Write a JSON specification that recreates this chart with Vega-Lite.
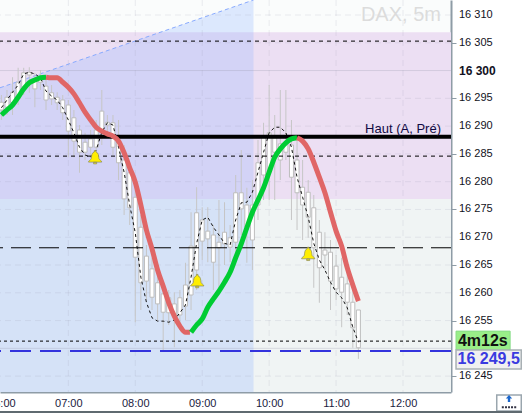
{"$schema":"https://vega.github.io/schema/vega-lite/v6.json","width":451,"height":392,"autosize":"none","padding":{"left":0,"top":0,"right":71,"bottom":21},"background":"#ffffff","view":{"fill":"#fafcfc","stroke":null},"config":{"font":"Liberation Sans"},
"datasets":{
"candles":[
{"t":"2024-01-15T06:00:00Z","open":16292.9,"close":16294.3,"low":16291.1,"high":16295.6,"signal":16293.3},
{"t":"2024-01-15T06:05:00Z","open":16293.4,"close":16295.2,"low":16292.0,"high":16296.5,"signal":16294.7},
{"t":"2024-01-15T06:10:00Z","open":16294.2,"close":16296.1,"low":16292.0,"high":16298.8,"signal":16296.1},
{"t":"2024-01-15T06:15:00Z","open":16295.2,"close":16297.9,"low":16293.8,"high":16300.5,"signal":16297.4},
{"t":"2024-01-15T06:20:00Z","open":16297.0,"close":16299.6,"low":16295.6,"high":16300.5,"signal":16299.4},
{"t":"2024-01-15T06:25:00Z","open":16299.2,"close":16299.7,"low":16296.0,"high":16300.6,"signal":16299.7},
{"t":"2024-01-15T06:30:00Z","open":16298.3,"close":16296.7,"low":16293.4,"high":16299.6,"signal":16299.4},
{"t":"2024-01-15T06:35:00Z","open":16298.8,"close":16297.9,"low":16296.5,"high":16300.1,"signal":16298.7},
{"t":"2024-01-15T06:40:00Z","open":16297.2,"close":16294.7,"low":16292.9,"high":16298.8,"signal":16296.3},
{"t":"2024-01-15T06:45:00Z","open":16296.0,"close":16294.9,"low":16293.8,"high":16297.4,"signal":16295.4},
{"t":"2024-01-15T06:50:00Z","open":16295.2,"close":16294.2,"low":16292.9,"high":16296.1,"signal":16294.7},
{"t":"2024-01-15T06:55:00Z","open":16294.7,"close":16292.4,"low":16291.1,"high":16295.6,"signal":16293.3},
{"t":"2024-01-15T07:00:00Z","open":16293.8,"close":16289.1,"low":16284.4,"high":16294.7,"signal":16291.1},
{"t":"2024-01-15T07:05:00Z","open":16291.5,"close":16287.3,"low":16284.4,"high":16292.9,"signal":16288.8},
{"t":"2024-01-15T07:10:00Z","open":16289.3,"close":16285.3,"low":16281.6,"high":16290.2,"signal":16286.2},
{"t":"2024-01-15T07:15:00Z","open":16287.1,"close":16285.3,"low":16283.9,"high":16288.8,"signal":16284.8},
{"t":"2024-01-15T07:20:00Z","open":16286.2,"close":16287.7,"low":16284.4,"high":16289.3,"signal":16284.4},
{"t":"2024-01-15T07:25:00Z","open":16286.2,"close":16289.3,"low":16284.8,"high":16291.1,"signal":16285.7},
{"t":"2024-01-15T07:30:00Z","open":16289.3,"close":16292.7,"low":16286.6,"high":16296.5,"signal":16288.9},
{"t":"2024-01-15T07:35:00Z","open":16290.2,"close":16290.7,"low":16288.4,"high":16292.0,"signal":16290.6},
{"t":"2024-01-15T07:40:00Z","open":16290.6,"close":16286.2,"low":16284.8,"high":16292.0,"signal":16290.2},
{"t":"2024-01-15T07:45:00Z","open":16287.5,"close":16283.4,"low":16280.3,"high":16291.1,"signal":16286.2},
{"t":"2024-01-15T07:50:00Z","open":16283.9,"close":16276.9,"low":16274.0,"high":16286.6,"signal":16281.7},
{"t":"2024-01-15T07:55:00Z","open":16281.6,"close":16275.3,"low":16272.2,"high":16283.0,"signal":16275.8},
{"t":"2024-01-15T08:00:00Z","open":16277.2,"close":16266.4,"low":16254.7,"high":16280.3,"signal":16270.8},
{"t":"2024-01-15T08:05:00Z","open":16271.8,"close":16261.8,"low":16256.9,"high":16274.0,"signal":16262.8},
{"t":"2024-01-15T08:10:00Z","open":16266.6,"close":16262.1,"low":16258.7,"high":16268.6,"signal":16258.3},
{"t":"2024-01-15T08:15:00Z","open":16264.3,"close":16259.2,"low":16256.9,"high":16266.3,"signal":16255.5},
{"t":"2024-01-15T08:20:00Z","open":16261.8,"close":16258.0,"low":16255.1,"high":16263.7,"signal":16254.9},
{"t":"2024-01-15T08:25:00Z","open":16259.8,"close":16256.5,"low":16249.7,"high":16261.4,"signal":16254.9},
{"t":"2024-01-15T08:30:00Z","open":16259.1,"close":16256.4,"low":16254.2,"high":16260.5,"signal":16254.7},
{"t":"2024-01-15T08:35:00Z","open":16258.0,"close":16256.0,"low":16250.2,"high":16260.1,"signal":16255.1},
{"t":"2024-01-15T08:40:00Z","open":16256.0,"close":16259.1,"low":16253.3,"high":16260.5,"signal":16256.4},
{"t":"2024-01-15T08:45:00Z","open":16257.6,"close":16261.4,"low":16255.1,"high":16265.4,"signal":16257.8},
{"t":"2024-01-15T08:50:00Z","open":16259.6,"close":16268.4,"low":16256.9,"high":16274.5,"signal":16262.8},
{"t":"2024-01-15T08:55:00Z","open":16264.1,"close":16274.4,"low":16260.5,"high":16279.0,"signal":16268.9},
{"t":"2024-01-15T09:00:00Z","open":16269.3,"close":16273.1,"low":16265.9,"high":16275.4,"signal":16273.1},
{"t":"2024-01-15T09:05:00Z","open":16271.1,"close":16269.7,"low":16265.5,"high":16275.4,"signal":16273.6},
{"t":"2024-01-15T09:10:00Z","open":16270.4,"close":16265.5,"low":16260.5,"high":16272.2,"signal":16271.8},
{"t":"2024-01-15T09:15:00Z","open":16269.1,"close":16268.1,"low":16260.5,"high":16276.7,"signal":16270.4},
{"t":"2024-01-15T09:20:00Z","open":16270.9,"close":16268.8,"low":16265.0,"high":16276.3,"signal":16268.9},
{"t":"2024-01-15T09:25:00Z","open":16269.9,"close":16268.2,"low":16265.5,"high":16272.2,"signal":16268.6},
{"t":"2024-01-15T09:30:00Z","open":16269.1,"close":16278.0,"low":16265.5,"high":16281.2,"signal":16273.1},
{"t":"2024-01-15T09:35:00Z","open":16275.1,"close":16278.0,"low":16270.4,"high":16285.7,"signal":16276.2},
{"t":"2024-01-15T09:40:00Z","open":16271.8,"close":16275.8,"low":16265.4,"high":16278.9,"signal":16276.3},
{"t":"2024-01-15T09:45:00Z","open":16269.5,"close":16275.8,"low":16264.1,"high":16280.3,"signal":16278.1},
{"t":"2024-01-15T09:50:00Z","open":16275.8,"close":16283.4,"low":16273.1,"high":16287.5,"signal":16281.7},
{"t":"2024-01-15T09:55:00Z","open":16281.2,"close":16288.0,"low":16276.7,"high":16290.6,"signal":16285.3},
{"t":"2024-01-15T10:00:00Z","open":16281.7,"close":16288.8,"low":16276.7,"high":16297.4,"signal":16288.8},
{"t":"2024-01-15T10:05:00Z","open":16285.3,"close":16287.9,"low":16276.7,"high":16292.0,"signal":16289.8},
{"t":"2024-01-15T10:10:00Z","open":16283.9,"close":16286.8,"low":16280.3,"high":16296.5,"signal":16289.8},
{"t":"2024-01-15T10:15:00Z","open":16287.0,"close":16285.3,"low":16283.9,"high":16296.5,"signal":16288.8},
{"t":"2024-01-15T10:20:00Z","open":16286.6,"close":16280.8,"low":16273.1,"high":16291.1,"signal":16286.2},
{"t":"2024-01-15T10:25:00Z","open":16283.9,"close":16278.0,"low":16271.3,"high":16287.5,"signal":16280.8},
{"t":"2024-01-15T10:30:00Z","open":16279.0,"close":16275.8,"low":16269.5,"high":16283.9,"signal":16277.2},
{"t":"2024-01-15T10:35:00Z","open":16278.1,"close":16273.6,"low":16269.9,"high":16280.3,"signal":16273.6},
{"t":"2024-01-15T10:40:00Z","open":16275.3,"close":16268.1,"low":16260.9,"high":16277.6,"signal":16268.9},
{"t":"2024-01-15T10:45:00Z","open":16270.9,"close":16264.5,"low":16258.2,"high":16273.1,"signal":16265.9},
{"t":"2024-01-15T10:50:00Z","open":16267.7,"close":16266.8,"low":16264.1,"high":16270.9,"signal":16264.1},
{"t":"2024-01-15T10:55:00Z","open":16267.3,"close":16262.1,"low":16256.9,"high":16269.5,"signal":16261.9},
{"t":"2024-01-15T11:00:00Z","open":16264.8,"close":16260.7,"low":16258.7,"high":16266.8,"signal":16260.1},
{"t":"2024-01-15T11:05:00Z","open":16262.8,"close":16260.1,"low":16253.8,"high":16266.3,"signal":16259.1},
{"t":"2024-01-15T11:10:00Z","open":16261.6,"close":16258.3,"low":16256.0,"high":16264.1,"signal":16257.3},
{"t":"2024-01-15T11:15:00Z","open":16258.3,"close":16253.7,"low":16250.1,"high":16261.4,"signal":16253.8},
{"t":"2024-01-15T11:20:00Z","open":16250.1,"close":16256.9,"low":16248.1,"high":16256.9,"signal":16251.1}
],
"ma":[
{"t":"2024-01-15T06:00:00Z","v":16292.0,"leg":"up1","trend":"hausse"},
{"t":"2024-01-15T06:05:00Z","v":16292.9,"leg":"up1","trend":"hausse"},
{"t":"2024-01-15T06:10:00Z","v":16293.8,"leg":"up1","trend":"hausse"},
{"t":"2024-01-15T06:15:00Z","v":16295.2,"leg":"up1","trend":"hausse"},
{"t":"2024-01-15T06:20:00Z","v":16296.7,"leg":"up1","trend":"hausse"},
{"t":"2024-01-15T06:25:00Z","v":16297.8,"leg":"up1","trend":"hausse"},
{"t":"2024-01-15T06:30:00Z","v":16298.3,"leg":"up1","trend":"hausse"},
{"t":"2024-01-15T06:35:00Z","v":16298.7,"leg":"up1","trend":"hausse"},
{"t":"2024-01-15T06:40:00Z","v":16298.8,"leg":"up1","trend":"hausse"},
{"t":"2024-01-15T06:40:00Z","v":16298.8,"leg":"down1","trend":"baisse"},
{"t":"2024-01-15T06:45:00Z","v":16298.7,"leg":"down1","trend":"baisse"},
{"t":"2024-01-15T06:50:00Z","v":16298.7,"leg":"down1","trend":"baisse"},
{"t":"2024-01-15T06:55:00Z","v":16297.9,"leg":"down1","trend":"baisse"},
{"t":"2024-01-15T07:00:00Z","v":16297.0,"leg":"down1","trend":"baisse"},
{"t":"2024-01-15T07:05:00Z","v":16295.8,"leg":"down1","trend":"baisse"},
{"t":"2024-01-15T07:10:00Z","v":16294.2,"leg":"down1","trend":"baisse"},
{"t":"2024-01-15T07:15:00Z","v":16292.5,"leg":"down1","trend":"baisse"},
{"t":"2024-01-15T07:20:00Z","v":16291.1,"leg":"down1","trend":"baisse"},
{"t":"2024-01-15T07:25:00Z","v":16289.8,"leg":"down1","trend":"baisse"},
{"t":"2024-01-15T07:30:00Z","v":16289.1,"leg":"down1","trend":"baisse"},
{"t":"2024-01-15T07:35:00Z","v":16288.6,"leg":"down1","trend":"baisse"},
{"t":"2024-01-15T07:40:00Z","v":16288.2,"leg":"down1","trend":"baisse"},
{"t":"2024-01-15T07:45:00Z","v":16287.3,"leg":"down1","trend":"baisse"},
{"t":"2024-01-15T07:50:00Z","v":16285.2,"leg":"down1","trend":"baisse"},
{"t":"2024-01-15T07:55:00Z","v":16282.5,"leg":"down1","trend":"baisse"},
{"t":"2024-01-15T08:00:00Z","v":16279.9,"leg":"down1","trend":"baisse"},
{"t":"2024-01-15T08:05:00Z","v":16275.8,"leg":"down1","trend":"baisse"},
{"t":"2024-01-15T08:10:00Z","v":16271.3,"leg":"down1","trend":"baisse"},
{"t":"2024-01-15T08:15:00Z","v":16267.9,"leg":"down1","trend":"baisse"},
{"t":"2024-01-15T08:20:00Z","v":16264.1,"leg":"down1","trend":"baisse"},
{"t":"2024-01-15T08:25:00Z","v":16261.2,"leg":"down1","trend":"baisse"},
{"t":"2024-01-15T08:30:00Z","v":16258.2,"leg":"down1","trend":"baisse"},
{"t":"2024-01-15T08:35:00Z","v":16255.8,"leg":"down1","trend":"baisse"},
{"t":"2024-01-15T08:40:00Z","v":16254.0,"leg":"down1","trend":"baisse"},
{"t":"2024-01-15T08:45:00Z","v":16252.9,"leg":"down1","trend":"baisse"},
{"t":"2024-01-15T08:49:00Z","v":16252.9,"leg":"down1","trend":"baisse"},
{"t":"2024-01-15T08:50:00Z","v":16252.9,"leg":"up2","trend":"hausse"},
{"t":"2024-01-15T08:55:00Z","v":16254.2,"leg":"up2","trend":"hausse"},
{"t":"2024-01-15T09:00:00Z","v":16255.3,"leg":"up2","trend":"hausse"},
{"t":"2024-01-15T09:05:00Z","v":16257.4,"leg":"up2","trend":"hausse"},
{"t":"2024-01-15T09:10:00Z","v":16258.9,"leg":"up2","trend":"hausse"},
{"t":"2024-01-15T09:15:00Z","v":16260.3,"leg":"up2","trend":"hausse"},
{"t":"2024-01-15T09:20:00Z","v":16261.9,"leg":"up2","trend":"hausse"},
{"t":"2024-01-15T09:25:00Z","v":16263.7,"leg":"up2","trend":"hausse"},
{"t":"2024-01-15T09:30:00Z","v":16266.3,"leg":"up2","trend":"hausse"},
{"t":"2024-01-15T09:35:00Z","v":16268.8,"leg":"up2","trend":"hausse"},
{"t":"2024-01-15T09:40:00Z","v":16271.7,"leg":"up2","trend":"hausse"},
{"t":"2024-01-15T09:45:00Z","v":16274.5,"leg":"up2","trend":"hausse"},
{"t":"2024-01-15T09:50:00Z","v":16276.7,"leg":"up2","trend":"hausse"},
{"t":"2024-01-15T09:55:00Z","v":16278.9,"leg":"up2","trend":"hausse"},
{"t":"2024-01-15T10:00:00Z","v":16281.7,"leg":"up2","trend":"hausse"},
{"t":"2024-01-15T10:05:00Z","v":16284.4,"leg":"up2","trend":"hausse"},
{"t":"2024-01-15T10:10:00Z","v":16285.9,"leg":"up2","trend":"hausse"},
{"t":"2024-01-15T10:15:00Z","v":16287.0,"leg":"up2","trend":"hausse"},
{"t":"2024-01-15T10:20:00Z","v":16287.7,"leg":"up2","trend":"hausse"},
{"t":"2024-01-15T10:25:00Z","v":16287.9,"leg":"up2","trend":"hausse"},
{"t":"2024-01-15T10:25:00Z","v":16287.9,"leg":"down2","trend":"baisse"},
{"t":"2024-01-15T10:30:00Z","v":16287.3,"leg":"down2","trend":"baisse"},
{"t":"2024-01-15T10:35:00Z","v":16285.9,"leg":"down2","trend":"baisse"},
{"t":"2024-01-15T10:40:00Z","v":16283.5,"leg":"down2","trend":"baisse"},
{"t":"2024-01-15T10:45:00Z","v":16280.8,"leg":"down2","trend":"baisse"},
{"t":"2024-01-15T10:50:00Z","v":16278.0,"leg":"down2","trend":"baisse"},
{"t":"2024-01-15T10:55:00Z","v":16274.5,"leg":"down2","trend":"baisse"},
{"t":"2024-01-15T11:00:00Z","v":16271.1,"leg":"down2","trend":"baisse"},
{"t":"2024-01-15T11:05:00Z","v":16268.4,"leg":"down2","trend":"baisse"},
{"t":"2024-01-15T11:10:00Z","v":16264.5,"leg":"down2","trend":"baisse"},
{"t":"2024-01-15T11:15:00Z","v":16261.4,"leg":"down2","trend":"baisse"},
{"t":"2024-01-15T11:20:00Z","v":16258.5,"leg":"down2","trend":"baisse"}
]
},
"layer":[
{"data":{"values":[{"a":"2024-01-15T05:58:45Z","b":"2024-01-15T12:43:00Z","p":16276.9,"q":16242.14}]},"mark":{"type":"rect","fill":"#f0f4f4"},
"encoding":{
"x":{"field":"a","type":"temporal","scale":{"type":"utc","nice":false,"padding":0,"domain":[{"year":2024,"month":1,"date":15,"hours":5,"minutes":58,"seconds":45,"utc":true},{"year":2024,"month":1,"date":15,"hours":12,"minutes":43,"utc":true}]},
"axis":{"title":null,"format":"%H:%M","values":[{"year":2024,"month":1,"date":15,"hours":6,"utc":true},{"year":2024,"month":1,"date":15,"hours":7,"utc":true},{"year":2024,"month":1,"date":15,"hours":8,"utc":true},{"year":2024,"month":1,"date":15,"hours":9,"utc":true},{"year":2024,"month":1,"date":15,"hours":10,"utc":true},{"year":2024,"month":1,"date":15,"hours":11,"utc":true},{"year":2024,"month":1,"date":15,"hours":12,"utc":true}],"grid":false,"ticks":false,"labelPadding":5,"labelFontSize":11,"labelColor":"#1a1a40","domainColor":"#8e9ca6","domainWidth":2,"labelBound":false,"labelFlush":false,"labelOverlap":false}},
"x2":{"field":"b"},
"y":{"field":"p","type":"quantitative","scale":{"domain":[16242.14,16312.7],"nice":false,"zero":false},
"axis":{"title":null,"orient":"right","values":[16245,16250,16255,16260,16265,16270,16275,16280,16285,16290,16295,16300,16305,16310],"labels":false,"grid":false,"tickSize":5,"tickColor":"#8e9ca6","domainColor":"#8e9ca6","domainWidth":2}},
"y2":{"field":"q"}}},
{"data":{"values":[{"a":"2024-01-15T05:58:45Z","b":"2024-01-15T12:43:00Z","p":16306.9,"q":16276.9}]},"mark":{"type":"rect","fill":"#ecdff3"},
"encoding":{"x":{"field":"a","type":"temporal"},"x2":{"field":"b"},"y":{"field":"p","type":"quantitative"},"y2":{"field":"q"}}},
{"data":{"values":[{"t":"2024-01-15T05:58:45Z","p":16296.9,"q":16242.14},{"t":"2024-01-15T09:46:00Z","p":16312.7,"q":16242.14}]},"mark":{"type":"area","fill":"#99b8ff","opacity":0.3},
"encoding":{"x":{"field":"t","type":"temporal"},"y":{"field":"p","type":"quantitative"},"y2":{"field":"q"}}},
{"data":{"values":[{"t":"2024-01-15T05:58:45Z","p":16296.9},{"t":"2024-01-15T09:46:00Z","p":16312.7}]},"mark":{"type":"line","stroke":"#88aaff","strokeWidth":1,"strokeDash":[4,3]},
"encoding":{"x":{"field":"t","type":"temporal"},"y":{"field":"p","type":"quantitative"}}},
{"data":{"values":[{"p":16245},{"p":16255},{"p":16260},{"p":16265},{"p":16270},{"p":16275},{"p":16280},{"p":16285},{"p":16290},{"p":16295},{"p":16305},{"p":16310}]},"mark":{"type":"rule","stroke":"#9a9ab0","opacity":0.18,"strokeDash":[6,4]},
"encoding":{"y":{"field":"p","type":"quantitative"}}},
{"data":{"values":[{"p":16250},{"p":16300}]},"mark":{"type":"rule","stroke":"#9a9ab0","opacity":0.3},
"encoding":{"y":{"field":"p","type":"quantitative"}}},
{"data":{"values":[{"t":"2024-01-15T07:00:00Z"},{"t":"2024-01-15T08:00:00Z"},{"t":"2024-01-15T09:00:00Z"},{"t":"2024-01-15T10:00:00Z"},{"t":"2024-01-15T11:00:00Z"},{"t":"2024-01-15T12:00:00Z"}]},"mark":{"type":"rule","stroke":"#9a9ab0","opacity":0.18,"strokeDash":[6,4]},
"encoding":{"x":{"field":"t","type":"temporal"}}},
{"data":{"name":"candles"},"mark":{"type":"rule","stroke":"#c6c6c6","strokeWidth":1},
"encoding":{"x":{"field":"t","type":"temporal"},"y":{"field":"low","type":"quantitative"},"y2":{"field":"high"}}},
{"data":{"name":"candles"},"mark":{"type":"bar","size":4,"fill":"#ffffff","stroke":"#bdbdbd","strokeWidth":1},
"encoding":{"x":{"field":"t","type":"temporal"},"y":{"field":"open","type":"quantitative"},"y2":{"field":"close"}}},
{"data":{"values":[{"p":16305.3},{"p":16284.6}]},"mark":{"type":"rule","stroke":"#000000","strokeWidth":1,"strokeDash":[4,4]},
"encoding":{"y":{"field":"p","type":"quantitative"}}},
{"data":{"values":[{"p":16251.3}]},"mark":{"type":"rule","stroke":"#000000","strokeWidth":1,"strokeDash":[3,3]},
"encoding":{"y":{"field":"p","type":"quantitative"}}},
{"data":{"values":[{"p":16268.1}]},"mark":{"type":"rule","stroke":"#000000","strokeWidth":1,"strokeDash":[20,8]},
"encoding":{"y":{"field":"p","type":"quantitative"}}},
{"data":{"values":[{"p":16249.5}]},"mark":{"type":"rule","stroke":"#3333dd","strokeWidth":2,"strokeDash":[21,9]},
"encoding":{"y":{"field":"p","type":"quantitative"}}},
{"data":{"name":"candles"},"mark":{"type":"line","stroke":"#111111","strokeWidth":1,"strokeDash":[3,3]},
"encoding":{"x":{"field":"t","type":"temporal"},"y":{"field":"signal","type":"quantitative"}}},
{"data":{"values":[{"p":16288.1}]},"mark":{"type":"rule","stroke":"#000000","strokeWidth":4},
"encoding":{"y":{"field":"p","type":"quantitative"}}},
{"data":{"name":"ma"},"mark":{"type":"line","strokeWidth":5,"interpolate":"monotone"},
"encoding":{"x":{"field":"t","type":"temporal"},"y":{"field":"v","type":"quantitative"},"detail":{"field":"leg"},"color":{"field":"trend","type":"nominal","legend":null,"scale":{"domain":["hausse","baisse"],"range":["#00cc33","#e06666"]}}}},
{"data":{"values":[{"t":"2024-01-15T07:24:00Z","p":16284.4},{"t":"2024-01-15T08:55:30Z","p":16262.1},{"t":"2024-01-15T10:35:00Z","p":16267.0}]},
"mark":{"type":"point","filled":true,"size":196,"fill":"#ffee00","stroke":"#8a8a60","strokeWidth":0.7,"opacity":1,"shape":"M-0.12,-0.95 L0.12,-0.95 L0.12,-0.75 C0.5,-0.65 0.5,-0.2 0.55,0.2 C0.6,0.42 0.95,0.45 0.95,0.7 L-0.95,0.7 C-0.95,0.45 -0.6,0.42 -0.55,0.2 C-0.5,-0.2 -0.5,-0.65 -0.12,-0.75 Z M-0.22,0.72 L0.22,0.72 L0.22,0.95 L-0.22,0.95 Z"},
"encoding":{"x":{"field":"t","type":"temporal"},"y":{"field":"p","type":"quantitative"}}},
{"data":{"values":[{"t":"2024-01-15T12:34:00Z","p":16310,"label":"DAX, 5m"}]},"mark":{"type":"text","align":"right","baseline":"middle","fontSize":20,"fill":"#dcdcdc"},
"encoding":{"x":{"field":"t","type":"temporal"},"y":{"field":"p","type":"quantitative"},"text":{"field":"label"}}},
{"data":{"values":[{"t":"2024-01-15T12:34:00Z","p":16289.5,"label":"Haut (A, Pré)"}]},"mark":{"type":"text","align":"right","baseline":"middle","fontSize":13,"fill":"#110a44"},
"encoding":{"x":{"field":"t","type":"temporal"},"y":{"field":"p","type":"quantitative"},"text":{"field":"label"}}},
{"data":{"values":[{"t":"2024-01-15T12:50:10Z","p":16310,"label":"16 310"},{"t":"2024-01-15T12:50:10Z","p":16305,"label":"16 305"},{"t":"2024-01-15T12:50:10Z","p":16295,"label":"16 295"},{"t":"2024-01-15T12:50:10Z","p":16290,"label":"16 290"},{"t":"2024-01-15T12:50:10Z","p":16285,"label":"16 285"},{"t":"2024-01-15T12:50:10Z","p":16280,"label":"16 280"},{"t":"2024-01-15T12:50:10Z","p":16275,"label":"16 275"},{"t":"2024-01-15T12:50:10Z","p":16270,"label":"16 270"},{"t":"2024-01-15T12:50:10Z","p":16265,"label":"16 265"},{"t":"2024-01-15T12:50:10Z","p":16260,"label":"16 260"},{"t":"2024-01-15T12:50:10Z","p":16255,"label":"16 255"},{"t":"2024-01-15T12:50:10Z","p":16245,"label":"16 245"}]},"mark":{"type":"text","align":"left","baseline":"middle","fontSize":11,"fill":"#111122"},
"encoding":{"x":{"field":"t","type":"temporal"},"y":{"field":"p","type":"quantitative"},"text":{"field":"label"}}},
{"data":{"values":[{"t":"2024-01-15T12:50:10Z","p":16300,"label":"16 300"}]},"mark":{"type":"text","align":"left","baseline":"middle","fontSize":12,"fontWeight":"bold","fill":"#111122"},
"encoding":{"x":{"field":"t","type":"temporal"},"y":{"field":"p","type":"quantitative"},"text":{"field":"label"}}},
{"data":{"values":[{"a":"2024-01-15T12:47:30Z","b":"2024-01-15T13:36:00Z","p":16253.1,"q":16249.7}]},"mark":{"type":"rect","fill":"#99ee88","stroke":"#88dd88"},
"encoding":{"x":{"field":"a","type":"temporal"},"x2":{"field":"b"},"y":{"field":"p","type":"quantitative"},"y2":{"field":"q"}}},
{"data":{"values":[{"a":"2024-01-15T12:47:30Z","b":"2024-01-15T13:46:00Z","p":16249.7,"q":16246.3}]},"mark":{"type":"rect","fill":"#f0f0f0","stroke":"#a8b0b4","strokeWidth":1.5},
"encoding":{"x":{"field":"a","type":"temporal"},"x2":{"field":"b"},"y":{"field":"p","type":"quantitative"},"y2":{"field":"q"}}},
{"data":{"values":[{"t":"2024-01-15T13:11:30Z","p":16251.4,"label":"4m12s"}]},"mark":{"type":"text","align":"center","baseline":"middle","fontSize":16,"fontWeight":"bold","fill":"#111111"},
"encoding":{"x":{"field":"t","type":"temporal"},"y":{"field":"p","type":"quantitative"},"text":{"field":"label"}}},
{"data":{"values":[{"t":"2024-01-15T13:16:48Z","p":16248.0,"label":"16 249,5"}]},"mark":{"type":"text","align":"center","baseline":"middle","fontSize":16,"fontWeight":"bold","fill":"#3a3ae0"},
"encoding":{"x":{"field":"t","type":"temporal"},"y":{"field":"p","type":"quantitative"},"text":{"field":"label"}}},
{"data":{"values":[{"a":"2024-01-15T13:24:00Z","b":"2024-01-15T13:46:00Z","p":16241.6,"q":16238.7}]},"mark":{"type":"rect","fill":"#ffffff","stroke":"#9aa6ae","strokeWidth":1.5},
"encoding":{"x":{"field":"a","type":"temporal"},"x2":{"field":"b"},"y":{"field":"p","type":"quantitative"},"y2":{"field":"q"}}},
{"data":{"values":[{"t":"2024-01-15T13:35:00Z","p":16240.9}]},"mark":{"type":"point","filled":true,"size":64,"fill":"#1a66cc","opacity":1,"shape":"M0,-1 L0.8,-0.1 L0.3,-0.1 L0.3,0.8 L-0.3,0.8 L-0.3,-0.1 L-0.8,-0.1 Z"},
"encoding":{"x":{"field":"t","type":"temporal"},"y":{"field":"p","type":"quantitative"}}},
{"data":{"values":[{"t":"2024-01-15T13:35:00Z","p":16239.4}]},"mark":{"type":"point","filled":true,"size":256,"fill":"#333344","opacity":1,"shape":"M-0.9,-0.12 L-0.65,-0.12 L-0.65,0.12 L-0.9,0.12 Z M-0.5,-0.12 L-0.25,-0.12 L-0.25,0.12 L-0.5,0.12 Z M-0.12,-0.12 L0.12,-0.12 L0.12,0.12 L-0.12,0.12 Z M0.25,-0.12 L0.5,-0.12 L0.5,0.12 L0.25,0.12 Z M0.65,-0.12 L0.9,-0.12 L0.9,0.12 L0.65,0.12 Z"},
"encoding":{"x":{"field":"t","type":"temporal"},"y":{"field":"p","type":"quantitative"}}},
{"data":{"values":[{"a":"2024-01-15T05:58:00Z","b":"2024-01-15T13:50:00Z","p":16238.7,"q":16238.0}]},"mark":{"type":"rect","fill":"#5f6a70"},
"encoding":{"x":{"field":"a","type":"temporal"},"x2":{"field":"b"},"y":{"field":"p","type":"quantitative"},"y2":{"field":"q"}}}
]}
